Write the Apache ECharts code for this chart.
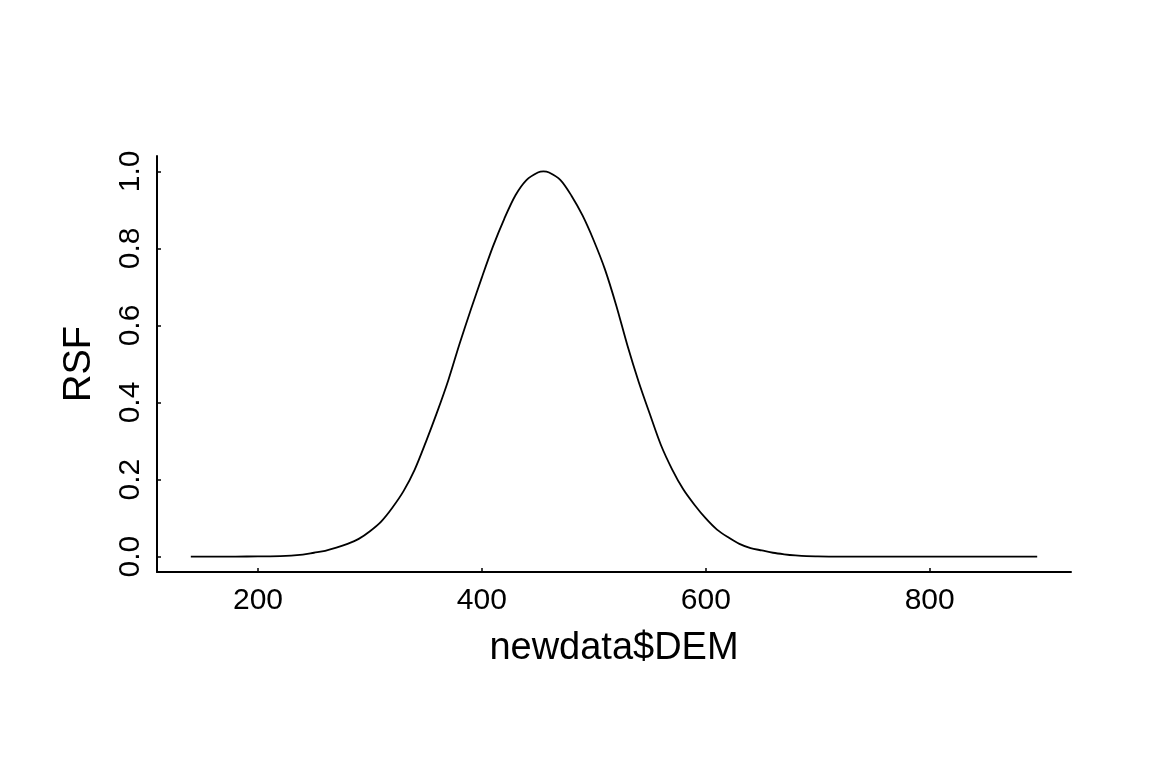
<!DOCTYPE html>
<html>
<head>
<meta charset="utf-8">
<script src="https://cdn.jsdelivr.net/npm/echarts@6/dist/echarts.min.js"></script>
<style>
html,body{margin:0;padding:0;background:#fff;}
#chart{width:1152px;height:768px;}
</style>
</head>
<body>
<div id="chart"></div>
<script>
// Data
var dem = [140,160,180,200,220,240,250,260,270,280,290,300,310,320,330,340,350,360,370,380,390,400,410,420,430,440,450,455,460,470,480,490,500,510,520,530,540,550,560,570,580,590,600,610,620,630,640,650,660,670,680,690,700,720,750,800,850,896];
var rsf = [0,0,0,0.0005,0.001,0.005,0.010,0.015,0.023,0.033,0.046,0.066,0.091,0.127,0.170,0.226,0.298,0.375,0.458,0.552,0.640,0.725,0.806,0.877,0.938,0.978,0.997,1.0,0.997,0.978,0.937,0.885,0.820,0.745,0.652,0.548,0.454,0.370,0.289,0.226,0.174,0.134,0.099,0.070,0.050,0.033,0.022,0.016,0.010,0.006,0.003,0.001,0.0005,0,0,0,0,0];
var xTicks = [200,400,600,800];
var yTicks = [0,0.2,0.4,0.6,0.8,1.0];
var xName = 'newdata$DEM';
var yName = 'RSF';

var points = dem.map(function(d,i){return [d, rsf[i]];});
var chart = echarts.init(document.getElementById('chart'), null, {renderer:'canvas'});
var font = 'Liberation Sans, Arial, sans-serif';
chart.setOption({
  animation:false,
  backgroundColor:'#ffffff',
  grid:{left:157,right:81,top:156,bottom:196,containLabel:false},
  xAxis:{
    type:'value', min:109.8, max:926.2,
    name:xName, nameLocation:'middle', nameGap:58,
    nameTextStyle:{fontFamily:font,fontSize:38,color:'#000'},
    axisLine:{show:true,onZero:false,lineStyle:{color:'#000',width:2}},
    axisTick:{show:true,inside:true,length:4,customValues:xTicks,lineStyle:{color:'#000',width:1.5}},
    axisLabel:{customValues:xTicks,fontFamily:font,fontSize:30,color:'#000',margin:14},
    splitLine:{show:false}
  },
  yAxis:{
    type:'value', min:-0.04, max:1.04,
    name:yName, nameLocation:'middle', nameGap:58, nameRotate:90,
    nameTextStyle:{fontFamily:font,fontSize:38,color:'#000'},
    axisLine:{show:true,onZero:false,lineStyle:{color:'#000',width:2}},
    axisTick:{show:true,inside:true,length:4,customValues:yTicks,lineStyle:{color:'#000',width:1.5}},
    axisLabel:{customValues:yTicks,rotate:90,fontFamily:font,fontSize:30,color:'#000',margin:11,
      formatter:function(v){return v.toFixed(1);}},
    splitLine:{show:false}
  },
  series:[{
    type:'line', data:points, showSymbol:false, smooth:0.3,
    lineStyle:{color:'#000',width:1.8}
  }]
});
</script>
</body>
</html>
